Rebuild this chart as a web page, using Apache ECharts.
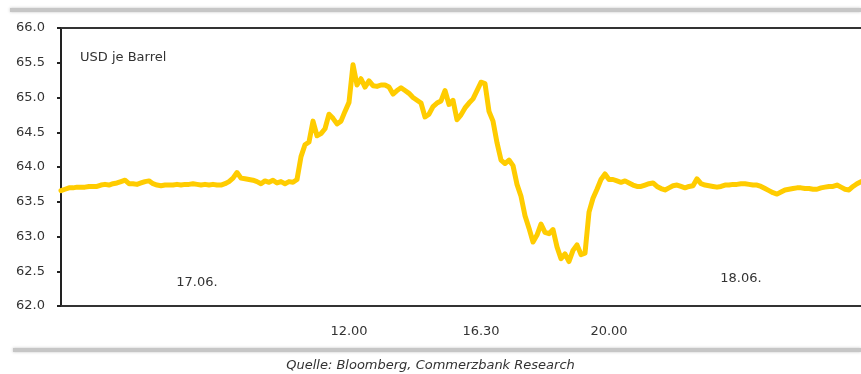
<!DOCTYPE html>
<html>
<head>
<meta charset="utf-8">
<title>Ölpreis Brent intraday</title>
<script src="https://cdn.jsdelivr.net/npm/echarts@6/dist/echarts.min.js"></script>
<style>
  html, body { margin: 0; padding: 0; background: #ffffff; }
  #chart { width: 861px; height: 374px; }
</style>
</head>
<body>
<div id="chart"></div>
<script>
// Intraday oil price, USD per barrel, one reading per step
const prices = [
  63.66, 63.68, 63.70, 63.70, 63.71, 63.71, 63.71, 63.72, 63.72, 63.72,
  63.74, 63.75, 63.74, 63.76, 63.77, 63.79, 63.81, 63.76, 63.76, 63.75,
  63.77, 63.79, 63.80, 63.76, 63.74, 63.73, 63.74, 63.74, 63.74, 63.75,
  63.74, 63.75, 63.75, 63.76, 63.75, 63.74, 63.75, 63.74, 63.75, 63.74,
  63.74, 63.76, 63.79, 63.84, 63.92, 63.84, 63.83, 63.82, 63.81, 63.79,
  63.76, 63.80, 63.78, 63.81, 63.77, 63.79, 63.76, 63.79, 63.78, 63.82,
  64.15, 64.32, 64.36, 64.66, 64.45, 64.48, 64.55, 64.76, 64.70, 64.62,
  64.66, 64.80, 64.93, 65.47, 65.18, 65.27, 65.15, 65.24, 65.17, 65.16,
  65.18, 65.18, 65.15, 65.05, 65.10, 65.14, 65.10, 65.06, 65.00, 64.96,
  64.92, 64.72, 64.76, 64.87, 64.92, 64.95, 65.10, 64.90, 64.96, 64.68,
  64.75, 64.85, 64.92, 64.98, 65.10, 65.22, 65.20, 64.80, 64.66, 64.35,
  64.10, 64.05, 64.10, 64.02, 63.75, 63.58, 63.30, 63.12, 62.92, 63.02,
  63.18, 63.06, 63.04, 63.10, 62.85, 62.68, 62.75, 62.64, 62.80, 62.88,
  62.74, 62.76, 63.35, 63.55, 63.68, 63.82, 63.90, 63.82, 63.82, 63.80,
  63.78, 63.80, 63.77, 63.74, 63.72, 63.72, 63.74, 63.76, 63.77, 63.72,
  63.69, 63.67, 63.70, 63.73, 63.74, 63.72, 63.70, 63.72, 63.73, 63.83,
  63.76, 63.74, 63.73, 63.72, 63.71, 63.72, 63.74, 63.74, 63.75, 63.75,
  63.76, 63.76, 63.75, 63.74, 63.74, 63.72, 63.69, 63.66, 63.63, 63.61,
  63.64, 63.67, 63.68, 63.69, 63.70, 63.70, 63.69, 63.69, 63.68, 63.68,
  63.70, 63.71, 63.72, 63.72, 63.74, 63.71, 63.68, 63.67, 63.72, 63.76,
  63.79
];

// Time-of-day labels, keyed by reading index
const timeLabels = { 72: '12.00', 105: '16.30', 137: '20.00' };
// Trading-day labels, keyed by reading index
const dayLabels = { 34: '17.06.', 170: '18.06.' };

const yMin = 62.0;
const yMax = 66.0;
const yStep = 0.5;

const unitLabel = 'USD je Barrel';
const sourceLabel = 'Quelle: Bloomberg, Commerzbank Research';

const steps = prices.map((_, i) => i);

const FONT = 'DejaVu Sans';
const TEXT_COLOR = '#333333';

const chart = echarts.init(document.getElementById('chart'), null, { renderer: 'canvas' });

chart.setOption({
  animation: false,
  backgroundColor: '#ffffff',
  grid: { left: 61, right: 0, top: 28, bottom: 68, containLabel: false },
  graphic: [
    {
      type: 'rect', silent: true,
      shape: { x: 10, y: 8, width: 851, height: 4 },
      style: { fill: '#c6c6c6', shadowBlur: 3, shadowColor: 'rgba(180,180,180,0.8)' }
    },
    {
      type: 'rect', silent: true,
      shape: { x: 13, y: 348, width: 848, height: 4 },
      style: { fill: '#c6c6c6', shadowBlur: 3, shadowColor: 'rgba(180,180,180,0.8)' }
    },
    {
      type: 'text', silent: true, left: 80, top: 51,
      style: { text: unitLabel, fontFamily: FONT, fontSize: 13, fill: TEXT_COLOR }
    },
    {
      type: 'text', silent: true, left: 'center', top: 359,
      style: { text: sourceLabel, fontFamily: FONT, fontSize: 13, fontStyle: 'italic', fill: TEXT_COLOR }
    }
  ],
  xAxis: [
    {
      type: 'category',
      data: steps,
      boundaryGap: false,
      position: 'bottom',
      axisLine: { show: true, onZero: false, lineStyle: { color: '#333333', width: 2 } },
      axisTick: { show: false },
      splitLine: { show: false },
      axisLabel: {
        interval: (idx) => timeLabels[idx] !== undefined,
        formatter: (val) => timeLabels[val] || '',
        margin: 19,
        fontFamily: FONT,
        fontSize: 13,
        color: TEXT_COLOR
      }
    },
    {
      type: 'category',
      data: steps,
      boundaryGap: false,
      position: 'top',
      axisLine: { show: true, onZero: false, lineStyle: { color: '#333333', width: 2 } },
      axisTick: { show: false },
      axisLabel: { show: false },
      splitLine: { show: false }
    },
    {
      type: 'category',
      data: steps,
      boundaryGap: false,
      position: 'bottom',
      axisLine: { show: false },
      axisTick: { show: false },
      splitLine: { show: false },
      axisLabel: {
        inside: true,
        interval: (idx) => dayLabels[idx] !== undefined,
        formatter: (val) => {
          const t = dayLabels[val];
          if (!t) return '';
          return val < 100 ? '{a|' + t + '}' : '{b|' + t + '}';
        },
        margin: 17,
        rich: {
          a: { fontFamily: FONT, fontSize: 13, color: TEXT_COLOR },
          b: { fontFamily: FONT, fontSize: 13, color: TEXT_COLOR, padding: [0, 0, 4, 0] }
        }
      }
    }
  ],
  yAxis: {
    type: 'value',
    min: yMin,
    max: yMax,
    interval: yStep,
    axisLine: { show: true, onZero: false, lineStyle: { color: '#222222', width: 2 } },
    axisTick: { show: true, inside: false, length: 4, lineStyle: { color: '#222222', width: 2 } },
    splitLine: { show: false },
    axisLabel: {
      margin: 16,
      formatter: (v) => v.toFixed(1),
      fontFamily: FONT,
      fontSize: 13,
      color: TEXT_COLOR
    }
  },
  series: [
    {
      type: 'line',
      name: 'Brent',
      xAxisIndex: 0,
      data: prices,
      showSymbol: false,
      smooth: false,
      lineStyle: { color: '#ffcc00', width: 5, join: 'round', cap: 'round' },
      emphasis: { disabled: true }
    }
  ]
});
</script>
</body>
</html>
